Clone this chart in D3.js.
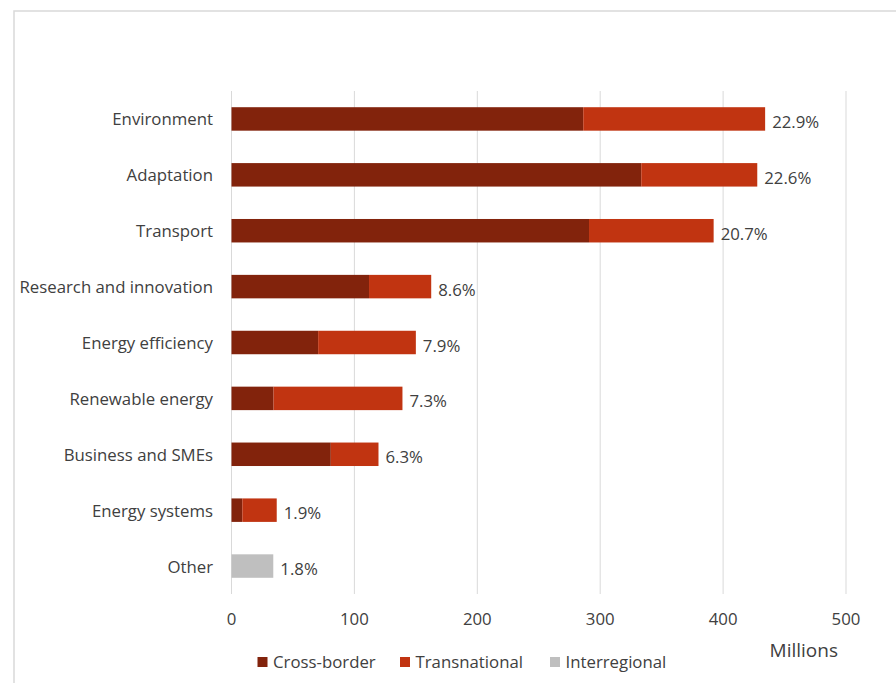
<!DOCTYPE html>
<html>
<head>
<meta charset="utf-8">
<script src="https://cdn.jsdelivr.net/npm/d3@7"></script>
<style>
  body { margin: 0; background: #fff; }
  svg { display: block; font-family: "Open Sans", "Noto Sans", sans-serif; }
</style>
</head>
<body>
<div id="chart"></div>
<script>
// Funding by thematic area, in millions, split by programme strand
const categories = ["Environment", "Adaptation", "Transport", "Research and innovation",
  "Energy efficiency", "Renewable energy", "Business and SMEs", "Energy systems", "Other"];
const crossBorder   = [286.2, 333.4, 290.9, 111.9, 70.5, 34.2, 80.8, 8.8, 0];
const transnational = [148.0, 94.4, 101.4, 50.6, 79.5, 104.9, 38.8, 28.0, 0];
const interregional = [0, 0, 0, 0, 0, 0, 0, 0, 34.0];
const xTicks = [0, 100, 200, 300, 400, 500];

const seriesNames = ["Cross-border", "Transnational", "Interregional"];
const seriesColors = ["#82230c", "#c13411", "#bfbfbf"];

const W = 896, H = 683;
const margin = { top: 91, right: 50, bottom: 89, left: 231.5 };
const fontSize = "16.8px";

const svg = d3.select("#chart").append("svg")
  .attr("width", W)
  .attr("height", H);

// chart frame
svg.append("rect")
  .attr("x", 14).attr("y", 11)
  .attr("width", W + 10).attr("height", H + 10)
  .attr("fill", "none")
  .attr("stroke", "#d9d9d9")
  .attr("stroke-width", 1.5);

const x = d3.scaleLinear().domain([0, 500]).range([margin.left, W - margin.right]);
const y = d3.scaleBand().domain(categories)
  .range([margin.top, H - margin.bottom])
  .paddingInner(0.58)
  .paddingOuter(0.29);

// gridlines
svg.append("g")
  .selectAll("line")
  .data(xTicks)
  .enter()
  .append("line")
  .attr("x1", (d) => x(d)).attr("x2", (d) => x(d))
  .attr("y1", margin.top).attr("y2", H - margin.bottom)
  .attr("stroke", "#d9d9d9")
  .attr("stroke-width", 1);

// stacked rows
const rows = categories.map((c, i) => ({
  category: c,
  "Cross-border": crossBorder[i],
  "Transnational": transnational[i],
  "Interregional": interregional[i],
}));
const stack = d3.stack().keys(seriesNames);
const layers = stack(rows);

svg.append("g")
  .selectAll("g")
  .data(layers)
  .enter()
  .append("g")
  .attr("fill", (d, i) => seriesColors[i])
  .selectAll("rect")
  .data((d) => d.filter((s) => s[1] > s[0]))
  .enter()
  .append("rect")
  .attr("x", (d) => x(d[0]))
  .attr("y", (d) => y(d.data.category))
  .attr("width", (d) => x(d[1]) - x(d[0]))
  .attr("height", y.bandwidth());

// share of the total next to each bar
const totals = rows.map((r) => seriesNames.reduce((s, k) => s + r[k], 0));
const grand = d3.sum(totals);

svg.append("g")
  .selectAll("text")
  .data(rows)
  .enter()
  .append("text")
  .attr("x", (d, i) => x(totals[i]) + 7)
  .attr("y", (d) => y(d.category) + y.bandwidth() / 2 + 9)
  .attr("font-size", fontSize)
  .attr("fill", "#404040")
  .text((d, i) => d3.format(".1f")(totals[i] / grand * 100) + "%");

// category labels
svg.append("g")
  .selectAll("text")
  .data(categories)
  .enter()
  .append("text")
  .attr("x", 213)
  .attr("y", (d) => y(d) + y.bandwidth() / 2 + 6.5)
  .attr("text-anchor", "end")
  .attr("font-size", fontSize)
  .attr("fill", "#404040")
  .text((d) => d);

// x tick labels
svg.append("g")
  .selectAll("text")
  .data(xTicks)
  .enter()
  .append("text")
  .attr("x", (d) => x(d))
  .attr("y", 625)
  .attr("text-anchor", "middle")
  .attr("font-size", fontSize)
  .attr("fill", "#404040")
  .text((d) => d);

svg.append("text")
  .attr("x", 838)
  .attr("y", 657)
  .attr("text-anchor", "end")
  .attr("font-size", "19px")
  .attr("fill", "#404040")
  .text("Millions");

// legend
const legendX = [257.5, 400, 550];
const legend = svg.append("g")
  .selectAll("g")
  .data(seriesNames)
  .enter()
  .append("g")
  .attr("transform", (d, i) => `translate(${legendX[i]}, 657)`);

legend.append("rect")
  .attr("width", 10).attr("height", 10)
  .attr("fill", (d, i) => seriesColors[i]);

legend.append("text")
  .attr("x", 15.5)
  .attr("y", 11)
  .attr("font-size", fontSize)
  .attr("fill", "#404040")
  .text((d) => d);
</script>
</body>
</html>
